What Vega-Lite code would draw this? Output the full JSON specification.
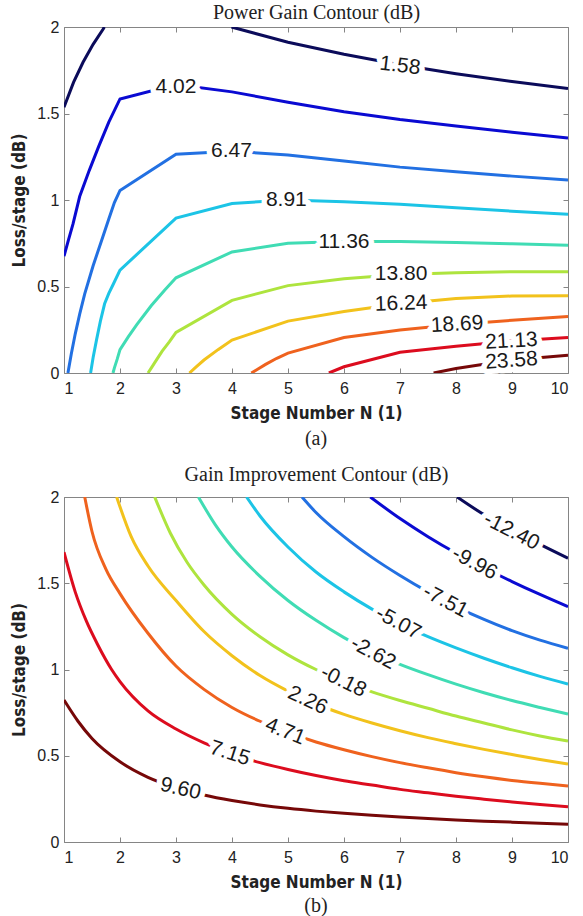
{
  "$schema": "https://vega.github.io/schema/vega-lite/v6.json",
  "background": "white",
  "padding": {"left": 10, "top": 2, "right": 8, "bottom": 2},
  "spacing": 14,
  "config": {
    "view": {"stroke": "#858585", "strokeWidth": 1},
    "axis": {
      "labelFont": "Liberation Sans", "labelFontSize": 16, "labelColor": "#222222",
      "titleFont": "Liberation Sans Narrow, DejaVu Sans Condensed, sans-serif", "titleFontSize": 17, "titleFontWeight": "bold", "titleColor": "#222222",
      "tickColor": "#858585", "tickSize": -5, "domain": false, "grid": false
    },
    "title": {"font": "Liberation Serif", "fontSize": 20, "fontWeight": "normal", "color": "#222222"}
  },
  "resolve": {"scale": {"color": "independent", "angle": "independent"}},
  "datasets": {
    "linesA": [
      {"c":"1.58","s":"L","n":1,"l":1.536},{"c":"1.58","s":"L","n":1.17,"l":1.68},{"c":"1.58","s":"L","n":1.34,"l":1.796},{"c":"1.58","s":"L","n":1.52,"l":1.9},{"c":"1.58","s":"L","n":1.7,"l":1.988},{"c":"1.58","s":"L","n":1.72,"l":2.0},
      {"c":"1.58","s":"R","n":3.99,"l":2.0},{"c":"1.58","s":"R","n":5,"l":1.912},{"c":"1.58","s":"R","n":6,"l":1.842},{"c":"1.58","s":"R","n":7,"l":1.782},{"c":"1.58","s":"R","n":8,"l":1.73},{"c":"1.58","s":"R","n":9,"l":1.685},{"c":"1.58","s":"R","n":10,"l":1.644},
      {"c":"4.02","n":1,"l":0.675},{"c":"4.02","n":1.08,"l":0.77},{"c":"4.02","n":1.16,"l":0.86},{"c":"4.02","n":1.28,"l":1.02},{"c":"4.02","n":1.45,"l":1.17},{"c":"4.02","n":1.62,"l":1.31},{"c":"4.02","n":1.8,"l":1.45},{"c":"4.02","n":2,"l":1.584},{"c":"4.02","n":3,"l":1.667},{"c":"4.02","n":4,"l":1.625},{"c":"4.02","n":5,"l":1.565},{"c":"4.02","n":6,"l":1.51},{"c":"4.02","n":7,"l":1.465},{"c":"4.02","n":8,"l":1.428},{"c":"4.02","n":9,"l":1.392},{"c":"4.02","n":10,"l":1.358},
      {"c":"6.47","n":1.07,"l":0},{"c":"6.47","n":1.13,"l":0.11},{"c":"6.47","n":1.2,"l":0.225},{"c":"6.47","n":1.28,"l":0.34},{"c":"6.47","n":1.37,"l":0.457},{"c":"6.47","n":1.52,"l":0.62},{"c":"6.47","n":1.67,"l":0.765},{"c":"6.47","n":1.8,"l":0.89},{"c":"6.47","n":1.9,"l":0.985},{"c":"6.47","n":2,"l":1.055},{"c":"6.47","n":3,"l":1.265},{"c":"6.47","n":4,"l":1.282},{"c":"6.47","n":5,"l":1.26},{"c":"6.47","n":6,"l":1.225},{"c":"6.47","n":7,"l":1.19},{"c":"6.47","n":8,"l":1.163},{"c":"6.47","n":9,"l":1.138},{"c":"6.47","n":10,"l":1.115},
      {"c":"8.91","n":1.475,"l":0},{"c":"8.91","n":1.52,"l":0.09},{"c":"8.91","n":1.58,"l":0.19},{"c":"8.91","n":1.65,"l":0.3},{"c":"8.91","n":1.725,"l":0.4},{"c":"8.91","n":1.8,"l":0.46},{"c":"8.91","n":1.875,"l":0.51},{"c":"8.91","n":2,"l":0.595},{"c":"8.91","n":3,"l":0.895},{"c":"8.91","n":4,"l":0.98},{"c":"8.91","n":5,"l":1.0},{"c":"8.91","n":6,"l":0.99},{"c":"8.91","n":7,"l":0.975},{"c":"8.91","n":8,"l":0.955},{"c":"8.91","n":9,"l":0.935},{"c":"8.91","n":10,"l":0.917},
      {"c":"11.36","n":1.875,"l":0},{"c":"11.36","n":1.9,"l":0.03},{"c":"11.36","n":1.95,"l":0.08},{"c":"11.36","n":2,"l":0.135},{"c":"11.36","n":2.15,"l":0.21},{"c":"11.36","n":2.3,"l":0.28},{"c":"11.36","n":2.56,"l":0.39},{"c":"11.36","n":2.8,"l":0.48},{"c":"11.36","n":3,"l":0.55},{"c":"11.36","n":4,"l":0.7},{"c":"11.36","n":5,"l":0.75},{"c":"11.36","n":6,"l":0.76},{"c":"11.36","n":7,"l":0.76},{"c":"11.36","n":8,"l":0.755},{"c":"11.36","n":9,"l":0.747},{"c":"11.36","n":10,"l":0.739},
      {"c":"13.80","n":2.5,"l":0},{"c":"13.80","n":2.56,"l":0.03},{"c":"13.80","n":2.62,"l":0.06},{"c":"13.80","n":2.75,"l":0.125},{"c":"13.80","n":2.88,"l":0.18},{"c":"13.80","n":3,"l":0.235},{"c":"13.80","n":4,"l":0.42},{"c":"13.80","n":5,"l":0.505},{"c":"13.80","n":6,"l":0.545},{"c":"13.80","n":7,"l":0.57},{"c":"13.80","n":8,"l":0.58},{"c":"13.80","n":9,"l":0.585},{"c":"13.80","n":10,"l":0.585},
      {"c":"16.24","n":3.24,"l":0},{"c":"16.24","n":3.36,"l":0.035},{"c":"16.24","n":3.5,"l":0.075},{"c":"16.24","n":3.75,"l":0.135},{"c":"16.24","n":4,"l":0.19},{"c":"16.24","n":5,"l":0.3},{"c":"16.24","n":6,"l":0.355},{"c":"16.24","n":7,"l":0.4},{"c":"16.24","n":8,"l":0.43},{"c":"16.24","n":9,"l":0.445},{"c":"16.24","n":10,"l":0.446},
      {"c":"18.69","n":4.345,"l":0},{"c":"18.69","n":4.45,"l":0.02},{"c":"18.69","n":4.6,"l":0.05},{"c":"18.69","n":4.8,"l":0.085},{"c":"18.69","n":5,"l":0.115},{"c":"18.69","n":6,"l":0.205},{"c":"18.69","n":7,"l":0.248},{"c":"18.69","n":8,"l":0.28},{"c":"18.69","n":9,"l":0.305},{"c":"18.69","n":10,"l":0.326},
      {"c":"21.13","n":5.73,"l":0},{"c":"21.13","n":6,"l":0.036},{"c":"21.13","n":7,"l":0.12},{"c":"21.13","n":8,"l":0.155},{"c":"21.13","n":9,"l":0.185},{"c":"21.13","n":10,"l":0.205},
      {"c":"23.58","n":7.6,"l":0},{"c":"23.58","n":8,"l":0.026},{"c":"23.58","n":9,"l":0.075},{"c":"23.58","n":10,"l":0.102}
    ],
    "labelsA": [
      {"c":"1.58","n":7.0,"l":1.775},{"c":"4.02","n":3.0,"l":1.655},{"c":"6.47","n":3.99,"l":1.282},{"c":"8.91","n":4.97,"l":1.0},{"c":"11.36","n":6.0,"l":0.76},
      {"c":"13.80","n":7.02,"l":0.57},{"c":"16.24","n":7.02,"l":0.4},{"c":"18.69","n":8.02,"l":0.28},{"c":"21.13","n":8.99,"l":0.183},{"c":"23.58","n":8.99,"l":0.07}
    ],
    "linesB": [
      {"c":"-12.40","n":8.02,"l":2.0},{"c":"-12.40","n":8.56,"l":1.886},{"c":"-12.40","n":9,"l":1.81},{"c":"-12.40","n":9.5,"l":1.725},{"c":"-12.40","n":10,"l":1.645},
      {"c":"-9.96","n":6.47,"l":2.0},{"c":"-9.96","n":7,"l":1.875},{"c":"-9.96","n":7.5,"l":1.77},{"c":"-9.96","n":8,"l":1.675},{"c":"-9.96","n":8.5,"l":1.59},{"c":"-9.96","n":9,"l":1.51},{"c":"-9.96","n":9.5,"l":1.435},{"c":"-9.96","n":10,"l":1.364},
      {"c":"-7.51","n":5.25,"l":2.0},{"c":"-7.51","n":5.5,"l":1.91},{"c":"-7.51","n":6,"l":1.77},{"c":"-7.51","n":6.5,"l":1.65},{"c":"-7.51","n":7,"l":1.545},{"c":"-7.51","n":7.5,"l":1.45},{"c":"-7.51","n":8,"l":1.365},{"c":"-7.51","n":8.5,"l":1.29},{"c":"-7.51","n":9,"l":1.225},{"c":"-7.51","n":9.5,"l":1.17},{"c":"-7.51","n":10,"l":1.123},
      {"c":"-5.07","n":4.26,"l":2.0},{"c":"-5.07","n":4.5,"l":1.89},{"c":"-5.07","n":5,"l":1.71},{"c":"-5.07","n":5.5,"l":1.565},{"c":"-5.07","n":6,"l":1.45},{"c":"-5.07","n":6.5,"l":1.35},{"c":"-5.07","n":7,"l":1.265},{"c":"-5.07","n":7.5,"l":1.19},{"c":"-5.07","n":8,"l":1.125},{"c":"-5.07","n":8.5,"l":1.065},{"c":"-5.07","n":9,"l":1.01},{"c":"-5.07","n":9.5,"l":0.96},{"c":"-5.07","n":10,"l":0.916},
      {"c":"-2.62","n":3.4,"l":2.0},{"c":"-2.62","n":3.7,"l":1.84},{"c":"-2.62","n":4,"l":1.71},{"c":"-2.62","n":4.5,"l":1.54},{"c":"-2.62","n":5,"l":1.4},{"c":"-2.62","n":5.5,"l":1.285},{"c":"-2.62","n":6,"l":1.185},{"c":"-2.62","n":6.5,"l":1.1},{"c":"-2.62","n":7,"l":1.03},{"c":"-2.62","n":7.5,"l":0.97},{"c":"-2.62","n":8,"l":0.915},{"c":"-2.62","n":8.5,"l":0.865},{"c":"-2.62","n":9,"l":0.82},{"c":"-2.62","n":9.5,"l":0.78},{"c":"-2.62","n":10,"l":0.742},
      {"c":"-0.18","n":2.62,"l":2.0},{"c":"-0.18","n":2.9,"l":1.79},{"c":"-0.18","n":3.2,"l":1.62},{"c":"-0.18","n":3.5,"l":1.49},{"c":"-0.18","n":4,"l":1.32},{"c":"-0.18","n":4.5,"l":1.19},{"c":"-0.18","n":5,"l":1.085},{"c":"-0.18","n":5.5,"l":1.0},{"c":"-0.18","n":6,"l":0.93},{"c":"-0.18","n":6.5,"l":0.87},{"c":"-0.18","n":7,"l":0.82},{"c":"-0.18","n":7.5,"l":0.775},{"c":"-0.18","n":8,"l":0.73},{"c":"-0.18","n":8.5,"l":0.69},{"c":"-0.18","n":9,"l":0.65},{"c":"-0.18","n":9.5,"l":0.615},{"c":"-0.18","n":10,"l":0.585},
      {"c":"2.26","n":1.94,"l":2.0},{"c":"2.26","n":2.2,"l":1.77},{"c":"2.26","n":2.5,"l":1.6},{"c":"2.26","n":3,"l":1.4},{"c":"2.26","n":3.5,"l":1.22},{"c":"2.26","n":4,"l":1.08},{"c":"2.26","n":4.5,"l":0.965},{"c":"2.26","n":5,"l":0.875},{"c":"2.26","n":5.5,"l":0.8},{"c":"2.26","n":6,"l":0.74},{"c":"2.26","n":6.5,"l":0.69},{"c":"2.26","n":7,"l":0.645},{"c":"2.26","n":7.5,"l":0.605},{"c":"2.26","n":8,"l":0.57},{"c":"2.26","n":8.5,"l":0.537},{"c":"2.26","n":9,"l":0.507},{"c":"2.26","n":9.5,"l":0.478},{"c":"2.26","n":10,"l":0.452},
      {"c":"4.71","n":1.37,"l":2.0},{"c":"4.71","n":1.5,"l":1.8},{"c":"4.71","n":1.75,"l":1.58},{"c":"4.71","n":2,"l":1.44},{"c":"4.71","n":2.5,"l":1.21},{"c":"4.71","n":3,"l":1.02},{"c":"4.71","n":3.5,"l":0.885},{"c":"4.71","n":4,"l":0.78},{"c":"4.71","n":4.5,"l":0.7},{"c":"4.71","n":5,"l":0.635},{"c":"4.71","n":5.5,"l":0.58},{"c":"4.71","n":6,"l":0.535},{"c":"4.71","n":6.5,"l":0.495},{"c":"4.71","n":7,"l":0.46},{"c":"4.71","n":7.5,"l":0.43},{"c":"4.71","n":8,"l":0.402},{"c":"4.71","n":8.5,"l":0.378},{"c":"4.71","n":9,"l":0.357},{"c":"4.71","n":9.5,"l":0.34},{"c":"4.71","n":10,"l":0.325},
      {"c":"7.15","n":1,"l":1.68},{"c":"7.15","n":1.2,"l":1.45},{"c":"7.15","n":1.4,"l":1.28},{"c":"7.15","n":1.6,"l":1.145},{"c":"7.15","n":1.85,"l":1.0},{"c":"7.15","n":2,"l":0.93},{"c":"7.15","n":2.5,"l":0.76},{"c":"7.15","n":3,"l":0.655},{"c":"7.15","n":3.5,"l":0.575},{"c":"7.15","n":4,"l":0.51},{"c":"7.15","n":4.5,"l":0.46},{"c":"7.15","n":5,"l":0.42},{"c":"7.15","n":5.5,"l":0.385},{"c":"7.15","n":6,"l":0.355},{"c":"7.15","n":6.5,"l":0.33},{"c":"7.15","n":7,"l":0.305},{"c":"7.15","n":7.5,"l":0.285},{"c":"7.15","n":8,"l":0.265},{"c":"7.15","n":8.5,"l":0.248},{"c":"7.15","n":9,"l":0.232},{"c":"7.15","n":9.5,"l":0.218},{"c":"7.15","n":10,"l":0.205},
      {"c":"9.60","n":1,"l":0.823},{"c":"9.60","n":1.25,"l":0.7},{"c":"9.60","n":1.5,"l":0.6},{"c":"9.60","n":2,"l":0.465},{"c":"9.60","n":2.5,"l":0.375},{"c":"9.60","n":3,"l":0.315},{"c":"9.60","n":3.5,"l":0.272},{"c":"9.60","n":4,"l":0.24},{"c":"9.60","n":4.5,"l":0.215},{"c":"9.60","n":5,"l":0.195},{"c":"9.60","n":5.5,"l":0.179},{"c":"9.60","n":6,"l":0.166},{"c":"9.60","n":6.5,"l":0.155},{"c":"9.60","n":7,"l":0.145},{"c":"9.60","n":7.5,"l":0.136},{"c":"9.60","n":8,"l":0.128},{"c":"9.60","n":8.5,"l":0.121},{"c":"9.60","n":9,"l":0.115},{"c":"9.60","n":9.5,"l":0.109},{"c":"9.60","n":10,"l":0.103}
    ],
    "labelsB": [
      {"c":"-12.40","n":8.99,"l":1.8},{"c":"-9.96","n":8.33,"l":1.615},{"c":"-7.51","n":7.81,"l":1.395},{"c":"-5.07","n":6.97,"l":1.268},{"c":"-2.62","n":6.52,"l":1.095},
      {"c":"-0.18","n":5.99,"l":0.93},{"c":"2.26","n":5.35,"l":0.82},{"c":"4.71","n":4.95,"l":0.64},{"c":"7.15","n":3.96,"l":0.513},{"c":"9.60","n":3.08,"l":0.307}
    ]
  },
  "vconcat": [
    {
      "width": 504, "height": 346,
      "title": {"text": "(a)", "orient": "bottom", "offset": 8},
      "resolve": {"axis": {"x": "independent", "y": "independent"}},
      "layer": [
        {
          "data": {"name": "linesA"},
          "mark": {"type": "line", "strokeWidth": 3, "clip": true},
          "encoding": {
            "x": {"field": "n", "type": "quantitative", "scale": {"domain": [1, 10], "nice": false, "zero": false},
                  "axis": {"orient": "bottom", "values": [1,2,3,4,5,6,7,8,9,10], "format": "d", "labelPadding": 12, "title": "Stage Number N (1)", "titlePadding": 9}},
            "y": {"field": "l", "type": "quantitative", "scale": {"domain": [0, 2], "nice": false},
                  "axis": {"orient": "left", "values": [0,0.5,1,1.5,2], "format": "~g", "labelPadding": 10, "title": "Loss/stage (dB)", "titlePadding": 8}},
            "color": {"field": "c", "type": "nominal", "legend": null,
                      "scale": {"domain": ["1.58","4.02","6.47","8.91","11.36","13.80","16.24","18.69","21.13","23.58"],
                                "range": ["#0b0b5a","#0a0ad2","#2270e2","#1cc4e6","#40dcb4","#aee43e","#f2c21c","#ef621e","#dc0c1e","#760808"]}},
            "detail": {"field": "s"}
          }
        },
        {
          "data": {"name": "labelsA"},
          "mark": {"type": "text", "font": "Liberation Sans", "fontSize": 21, "baseline": "middle", "align": "center", "fill": "white", "stroke": "white", "strokeWidth": 11, "strokeJoin": "round"},
          "encoding": {
            "x": {"field": "n", "type": "quantitative", "axis": null},
            "y": {"field": "l", "type": "quantitative", "axis": null},
            "text": {"field": "c"},
            "angle": {"field": "c", "type": "ordinal", "legend": null,
                      "scale": {"type": "ordinal", "domain": ["1.58","4.02","6.47","8.91","11.36","13.80","16.24","18.69","21.13","23.58"], "range": [7,0,0,0,0,0,-2,-3,-3,-4]}}
          }
        },
        {
          "data": {"name": "labelsA"},
          "mark": {"type": "text", "font": "Liberation Sans", "fontSize": 21, "baseline": "middle", "align": "center", "fill": "#1a1a1a"},
          "encoding": {
            "x": {"field": "n", "type": "quantitative",
                  "axis": {"orient": "top", "values": [1,2,3,4,5,6,7,8,9,10], "labels": false, "title": "Power Gain Contour (dB)", "titleFont": "Liberation Serif", "titleFontWeight": "normal", "titleFontSize": 20, "titleColor": "#222222", "titlePadding": 4}},
            "y": {"field": "l", "type": "quantitative",
                  "axis": {"orient": "right", "values": [0,0.5,1,1.5,2], "labels": false, "title": null}},
            "text": {"field": "c"},
            "angle": {"field": "c", "type": "ordinal", "legend": null,
                      "scale": {"type": "ordinal", "domain": ["1.58","4.02","6.47","8.91","11.36","13.80","16.24","18.69","21.13","23.58"], "range": [7,0,0,0,0,0,-2,-3,-3,-4]}}
          }
        }
      ]
    },
    {
      "width": 504, "height": 345,
      "title": {"text": "(b)", "orient": "bottom", "offset": 6},
      "resolve": {"axis": {"x": "independent", "y": "independent"}},
      "layer": [
        {
          "data": {"name": "linesB"},
          "mark": {"type": "line", "strokeWidth": 3, "clip": true, "interpolate": "monotone"},
          "encoding": {
            "x": {"field": "n", "type": "quantitative", "scale": {"domain": [1, 10], "nice": false, "zero": false},
                  "axis": {"orient": "bottom", "values": [1,2,3,4,5,6,7,8,9,10], "format": "d", "labelPadding": 12, "title": "Stage Number N (1)", "titlePadding": 9}},
            "y": {"field": "l", "type": "quantitative", "scale": {"domain": [0, 2], "nice": false},
                  "axis": {"orient": "left", "values": [0,0.5,1,1.5,2], "format": "~g", "labelPadding": 10, "title": "Loss/stage (dB)", "titlePadding": 8}},
            "color": {"field": "c", "type": "nominal", "legend": null,
                      "scale": {"domain": ["-12.40","-9.96","-7.51","-5.07","-2.62","-0.18","2.26","4.71","7.15","9.60"],
                                "range": ["#0b0b5a","#0a0ad2","#2270e2","#1cc4e6","#40dcb4","#aee43e","#f2c21c","#ef621e","#dc0c1e","#760808"]}}
          }
        },
        {
          "data": {"name": "labelsB"},
          "mark": {"type": "text", "font": "Liberation Sans", "fontSize": 21, "baseline": "middle", "align": "center", "fill": "white", "stroke": "white", "strokeWidth": 11, "strokeJoin": "round"},
          "encoding": {
            "x": {"field": "n", "type": "quantitative", "axis": null},
            "y": {"field": "l", "type": "quantitative", "axis": null},
            "text": {"field": "c"},
            "angle": {"field": "c", "type": "ordinal", "legend": null,
                      "scale": {"type": "ordinal", "domain": ["-12.40","-9.96","-7.51","-5.07","-2.62","-0.18","2.26","4.71","7.15","9.60"], "range": [27,28,28,28,28,26,25,22,18,13]}}
          }
        },
        {
          "data": {"name": "labelsB"},
          "mark": {"type": "text", "font": "Liberation Sans", "fontSize": 21, "baseline": "middle", "align": "center", "fill": "#1a1a1a"},
          "encoding": {
            "x": {"field": "n", "type": "quantitative",
                  "axis": {"orient": "top", "values": [1,2,3,4,5,6,7,8,9,10], "labels": false, "title": "Gain Improvement Contour (dB)", "titleFont": "Liberation Serif", "titleFontWeight": "normal", "titleFontSize": 20, "titleColor": "#222222", "titlePadding": 12}},
            "y": {"field": "l", "type": "quantitative",
                  "axis": {"orient": "right", "values": [0,0.5,1,1.5,2], "labels": false, "title": null}},
            "text": {"field": "c"},
            "angle": {"field": "c", "type": "ordinal", "legend": null,
                      "scale": {"type": "ordinal", "domain": ["-12.40","-9.96","-7.51","-5.07","-2.62","-0.18","2.26","4.71","7.15","9.60"], "range": [27,28,28,28,28,26,25,22,18,13]}}
          }
        }
      ]
    }
  ]
}
